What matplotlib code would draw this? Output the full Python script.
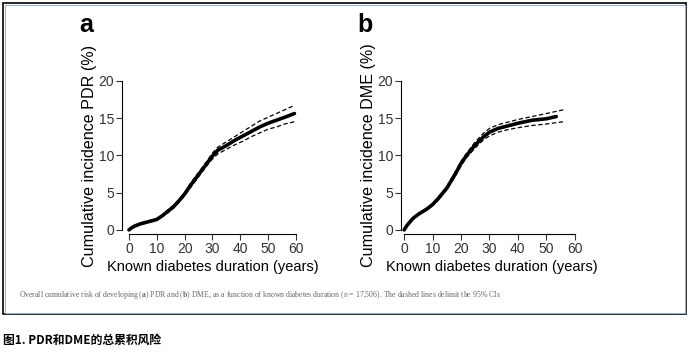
import matplotlib
matplotlib.use("Agg")
import matplotlib.pyplot as plt
from matplotlib.patches import Rectangle

# PDR cumulative incidence (%)
pdr_x = [0, 1, 2, 4, 7, 10, 12, 14, 16, 18, 20, 22, 24, 26, 28, 30, 32, 35, 38, 41, 44, 47, 50, 53, 56, 59.5]
pdr_y = [0, 0.3, 0.5, 0.8, 1.1, 1.4, 1.9, 2.5, 3.1, 3.9, 4.8, 5.9, 6.9, 7.9, 8.9, 9.9, 10.7, 11.3, 12.0, 12.6, 13.2, 13.8, 14.3, 14.7, 15.1, 15.6]
pdr_lo = [0, 0.2, 0.4, 0.7, 1.0, 1.3, 1.8, 2.3, 2.9, 3.7, 4.6, 5.6, 6.6, 7.6, 8.6, 9.5, 10.2, 10.8, 11.4, 11.9, 12.5, 13.0, 13.5, 13.8, 14.2, 14.5]
pdr_hi = [0, 0.4, 0.6, 0.9, 1.2, 1.5, 2.0, 2.7, 3.3, 4.1, 5.0, 6.2, 7.2, 8.2, 9.2, 10.3, 11.1, 11.8, 12.5, 13.2, 13.9, 14.6, 15.1, 15.6, 16.1, 16.7]

# DME cumulative incidence (%)
dme_x = [0, 1, 3, 5, 8, 10, 12, 15, 18, 20, 22, 25, 28, 30, 33, 36, 40, 45, 50, 53.5]
dme_y = [0, 0.6, 1.5, 2.1, 2.8, 3.4, 4.2, 5.6, 7.5, 8.9, 10.0, 11.4, 12.5, 13.1, 13.6, 13.9, 14.3, 14.7, 14.9, 15.2]
dmeci_x = [0, 1, 3, 5, 8, 10, 12, 15, 18, 20, 22, 25, 28, 30, 33, 36, 40, 45, 50, 56]
dme_lo = [0, 0.5, 1.4, 2.0, 2.7, 3.3, 4.0, 5.4, 7.2, 8.6, 9.7, 11.0, 12.1, 12.6, 13.1, 13.4, 13.7, 14.0, 14.2, 14.5]
dme_hi = [0, 0.7, 1.6, 2.2, 2.9, 3.5, 4.4, 5.8, 7.8, 9.2, 10.3, 11.8, 13.0, 13.6, 14.1, 14.4, 14.8, 15.2, 15.6, 16.1]

xticks = [0, 10, 20, 30, 40, 50, 60]
yticks = [0, 5, 10, 15, 20]

caption = (r"Overall cumulative risk of developing ($\mathbf{a}$) PDR and ($\mathbf{b}$) DME, "
           r"as a function of known diabetes duration ($\mathit{n}$ = 17,506). "
           r"The dashed lines delimit the 95% CIs")
title_cn = "图1. PDR和DME的总累积风险"

plt.rcParams['font.family'] = ['Liberation Sans', 'DejaVu Sans']
plt.rcParams['mathtext.fontset'] = 'custom'
plt.rcParams['mathtext.rm'] = 'Liberation Serif'
plt.rcParams['mathtext.it'] = 'Liberation Serif:italic'
plt.rcParams['mathtext.bf'] = 'Liberation Serif:bold'

W, H = 691, 360
fig = plt.figure(figsize=(W / 100, H / 100), dpi=100)

# frame around the figure panel
fig.patches.append(Rectangle((3 / W, 1 - 314 / H), 683 / W, 311 / H, transform=fig.transFigure,
                             fill=False, edgecolor='black', lw=1.2))
fig.patches.append(Rectangle((4.5 / W, 1 - 312.5 / H), 680 / W, 308 / H, transform=fig.transFigure,
                             fill=False, edgecolor='#9fb3cc', lw=0.8))


def make_panel(left, xmin, letter, ylabel, x, y, cx, lo, hi):
    ax = fig.add_axes([left / W, 1 - 234 / H, 178 / W, 157 / H])
    ax.plot(cx, lo, color='black', lw=0.9, ls=(0, (3.5, 2)))
    ax.plot(cx, hi, color='black', lw=0.9, ls=(0, (3.5, 2)))
    ax.plot(x, y, color='black', lw=2.6, solid_capstyle='round')
    ax.set_xlim(xmin, 61.5)
    ax.set_ylim(-0.55, 20.5)
    ax.set_xticks(xticks)
    ax.set_yticks(yticks)
    for s in ['top', 'right']:
        ax.spines[s].set_visible(False)
    ax.spines['left'].set_bounds(0, 20)
    ax.spines['bottom'].set_bounds(0, 60)
    ax.tick_params(direction='out', length=4, width=0.8, labelsize=10, colors='#333333', pad=1.5)
    ax.set_xlabel("Known diabetes duration (years)", fontsize=10.5)
    ax.xaxis.set_label_coords(0.51, -0.21)
    ax.xaxis.label.set_va('center')
    ax.set_ylabel(ylabel, fontsize=11.6)
    ax.yaxis.set_label_coords(-0.18, 0.5)
    ax.yaxis.label.set_va('center')
    ax.text(-0.2, 1.33, letter, transform=ax.transAxes, fontsize=18, fontweight='bold',
            ha='center', va='center')
    return ax


make_panel(122, -2.5, 'a', "Cumulative incidence PDR (%)", pdr_x, pdr_y, pdr_x, pdr_lo, pdr_hi)
make_panel(401, -1.1, 'b', "Cumulative incidence DME (%)", dme_x, dme_y, dmeci_x, dme_lo, dme_hi)

fig.text(19 / W, 1 - 295 / H, caption, fontsize=5.6, color='#666666', ha='left', va='center',
         family='Liberation Serif')
fig.text(3 / W, 1 - 340 / H, title_cn, fontsize=8.5, fontweight='bold', ha='left', va='center',
         family=['Noto Sans CJK SC', 'DejaVu Sans'])

fig.savefig("out.png", dpi=100)
